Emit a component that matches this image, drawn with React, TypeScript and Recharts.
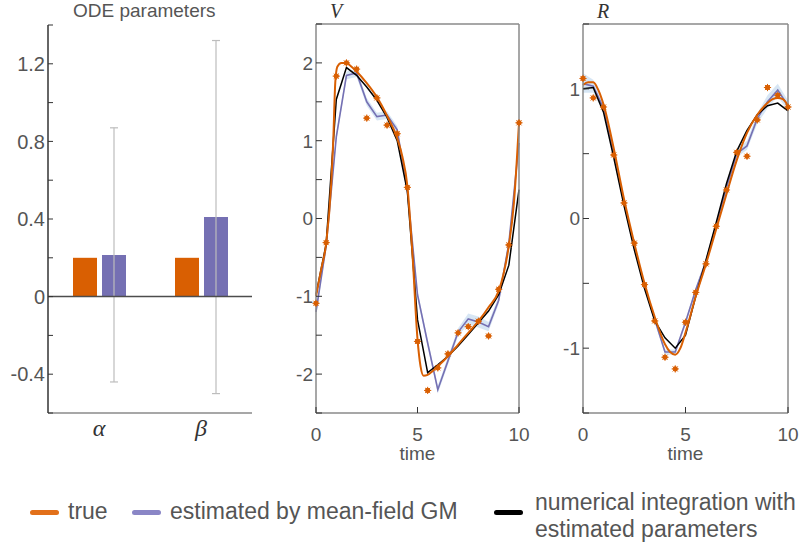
import {
  Area,
  Bar,
  BarChart,
  ComposedChart,
  ErrorBar,
  Line,
  ReferenceLine,
  Scatter,
  XAxis,
  YAxis,
} from "recharts";

const paramNames = ["α", "β"];
const trueParams = [0.2, 0.2];
const estParams = [0.215, 0.41];
const estLower = [-0.44, -0.5];
const estUpper = [0.87, 1.32];
const paramTicks = [-0.6, -0.4, -0.2, 0, 0.2, 0.4, 0.6, 0.8, 1, 1.2, 1.4];
const paramLabels = [-0.4, 0, 0.4, 0.8, 1.2];

const obsTimes = [0, 0.5, 1, 1.5, 2, 2.5, 3, 3.5, 4, 4.5, 5, 5.5, 6, 6.5, 7, 7.5, 8, 8.5, 9, 9.5, 10];
const timeTicks = [0, 5, 10];

const vObserved = [-1.09, -0.31, 1.83, 2.0, 1.92, 1.29, 1.55, 1.2, 1.09, 0.4, -1.58, -2.21, -1.92, -1.74, -1.47, -1.39, -1.32, -1.51, -0.91, -0.34, 1.23];
const vEstimated = [-1.2, -0.35, 1.05, 1.84, 1.87, 1.5, 1.31, 1.33, 1.14, 0.36, -0.98, -1.6, -2.2, -1.83, -1.46, -1.29, -1.33, -1.39, -1.05, -0.32, 0.97];
const vBandLower = [-1.25, -0.4, 1.0, 1.79, 1.82, 1.45, 1.26, 1.28, 1.09, 0.31, -1.03, -1.65, -2.25, -1.88, -1.51, -1.36, -1.4, -1.45, -1.1, -0.37, 0.92];
const vBandUpper = [-1.15, -0.3, 1.1, 1.89, 1.92, 1.55, 1.36, 1.38, 1.19, 0.41, -0.93, -1.55, -2.15, -1.78, -1.41, -1.22, -1.26, -1.33, -1.0, -0.27, 1.02];
const vIntegrated = [-0.98, -0.33, 1.53, 1.94, 1.84, 1.69, 1.52, 1.3, 1.0, 0.35, -1.3, -1.98, -1.88, -1.77, -1.64, -1.49, -1.34, -1.19, -0.98, -0.6, 0.37];
const vTrueTimes = [0, 0.25, 0.5, 0.75, 0.85, 0.95, 1.05, 1.25, 1.5, 1.75, 2, 2.5, 3, 3.5, 4, 4.25, 4.5, 4.75, 5, 5.15, 5.3, 5.5, 5.75, 6, 6.5, 7, 7.5, 8, 8.5, 9, 9.25, 9.5, 9.75, 10];
const vTrue = [-1.0, -0.66, -0.32, 0.45, 1.0, 1.75, 1.95, 2.0, 2.0, 1.95, 1.89, 1.74, 1.56, 1.32, 1.03, 0.8, 0.42, -0.45, -1.55, -1.9, -2.02, -2.01, -1.96, -1.9, -1.77, -1.62, -1.47, -1.32, -1.14, -0.93, -0.7, -0.35, 0.2, 1.23];
const vTicks = [-2.5, -2, -1.5, -1, -0.5, 0, 0.5, 1, 1.5, 2, 2.5];

const rObserved = [1.08, 0.93, 0.86, 0.49, 0.12, -0.19, -0.51, -0.79, -1.07, -1.16, -0.8, -0.57, -0.35, -0.06, 0.22, 0.51, 0.48, 0.76, 1.01, 0.95, 0.86];
const rEstimated = [1.04, 1.02, 0.85, 0.5, 0.12, -0.22, -0.52, -0.78, -1.03, -1.03, -0.8, -0.55, -0.33, -0.05, 0.24, 0.5, 0.56, 0.77, 0.9, 0.99, 0.87];
const rBandLower = [0.97, 0.97, 0.82, 0.48, 0.1, -0.24, -0.54, -0.8, -1.05, -1.05, -0.82, -0.57, -0.35, -0.07, 0.22, 0.47, 0.53, 0.73, 0.85, 0.94, 0.83];
const rBandUpper = [1.12, 1.07, 0.88, 0.52, 0.14, -0.2, -0.5, -0.76, -1.01, -1.01, -0.78, -0.53, -0.31, -0.03, 0.26, 0.53, 0.6, 0.81, 0.95, 1.04, 0.91];
const rIntegrated = [1.0, 1.01, 0.82, 0.47, 0.1, -0.24, -0.54, -0.79, -0.92, -1.0, -0.9, -0.6, -0.32, -0.03, 0.27, 0.52, 0.68, 0.8, 0.87, 0.89, 0.83];
const rTrueTimes = [0, 0.25, 0.5, 0.75, 1, 1.5, 2, 2.5, 3, 3.5, 4, 4.25, 4.5, 4.75, 5, 5.5, 6, 6.5, 7, 7.5, 8, 8.5, 9, 9.25, 9.5, 9.75, 10];
const rTrue = [1.03, 1.05, 1.05, 0.99, 0.88, 0.54, 0.15, -0.19, -0.5, -0.76, -0.97, -1.03, -1.05, -1.0, -0.88, -0.6, -0.35, -0.08, 0.19, 0.45, 0.66, 0.8, 0.89, 0.92, 0.93, 0.92, 0.87];
const rTicks = [-1.5, -1, -0.5, 0, 0.5, 1, 1.5];

const ORANGE = "#D95F02";
const PURPLE = "#7570B3";
const BAND = "#c6dbef";
const SANS = "Liberation Sans, Arial, sans-serif";
const SERIF = "Liberation Serif, DejaVu Serif, serif";
const TEXT = "#555555";
const BOX = "#8a8a8a";
const TICK = "#333333";

const toRows = (times: number[], values: number[]) => times.map((t, i) => ({ t, y: values[i] }));

const paramRows = paramNames.map((name, i) => ({
  name,
  trueValue: trueParams[i],
  estimate: estParams[i],
  err: [estParams[i] - estLower[i], estUpper[i] - estParams[i]],
}));

function Star(props: any) {
  const { cx, cy } = props;
  if (cx == null || cy == null) return null;
  const r = 3.6;
  return (
    <g stroke={ORANGE} strokeWidth={1}>
      <circle cx={cx} cy={cy} r={2.2} fill={ORANGE} />
      {[0, 45, 90, 135].map((a) => {
        const rad = (a * Math.PI) / 180;
        const dx = r * Math.cos(rad);
        const dy = r * Math.sin(rad);
        return <line key={a} x1={cx - dx} y1={cy - dy} x2={cx + dx} y2={cy + dy} />;
      })}
    </g>
  );
}

// ticks drawn inward, matlab style; tickSize=0 and tickMargin=3 so the axis sits at x + 3
function LeftTick(props: any) {
  const { x, y, payload, len, fontSize, labels } = props;
  const v = Number(payload.value);
  const show = labels ? labels.includes(v) : Number.isInteger(v);
  return (
    <g>
      <line x1={x + 3} x2={x + 3 + len} y1={y} y2={y} stroke={TICK} />
      {show && (
        <text x={x} y={y} dy="0.36em" textAnchor="end" fill={TEXT} fontSize={fontSize} fontFamily={SANS}>
          {String(v)}
        </text>
      )}
    </g>
  );
}

function RightTick(props: any) {
  const { x, y } = props;
  return <line x1={x - 6} x2={x} y1={y} y2={y} stroke={TICK} />;
}

function BottomTick(props: any) {
  const { x, y, payload } = props;
  return (
    <g>
      <line x1={x} x2={x} y1={y - 6} y2={y} stroke={TICK} />
      <text x={x} y={y + 28} textAnchor="middle" fill={TEXT} fontSize={19} fontFamily={SANS}>
        {String(payload.value)}
      </text>
    </g>
  );
}

function TopTick(props: any) {
  const { x, y } = props;
  return <line x1={x} x2={x} y1={y} y2={y + 6} stroke={TICK} />;
}

function ParamChart() {
  return (
    <BarChart width={270} height={450} data={paramRows} margin={{ top: 25, right: 18, left: 0, bottom: 0 }} barSize={24} barGap={5}>
      <XAxis
        dataKey="name"
        height={37}
        axisLine={{ stroke: BOX, strokeWidth: 1.5 }}
        tickLine={false}
        tickSize={0}
        tickMargin={6}
        tick={{ fontFamily: SERIF, fontStyle: "italic", fontSize: 24, fill: "#333" }}
      />
      <YAxis
        type="number"
        width={48}
        domain={[-0.6, 1.4]}
        ticks={paramTicks}
        interval={0}
        tickSize={0}
        tickMargin={3}
        tickLine={false}
        axisLine={{ stroke: "#333", strokeWidth: 1.5 }}
        tick={(props: any) => <LeftTick {...props} len={5} fontSize={20} labels={paramLabels} />}
      />
      <Bar dataKey="trueValue" fill={ORANGE} isAnimationActive={false} />
      <Bar dataKey="estimate" fill={PURPLE} isAnimationActive={false}>
        <ErrorBar dataKey="err" width={4} stroke="#bdbdbd" strokeWidth={1.2} direction="y" />
      </Bar>
      <ReferenceLine y={0} stroke="#4d4d4d" strokeWidth={1.5} />
    </BarChart>
  );
}

type StateProps = {
  width: number;
  right: number;
  yWidth: number;
  domain: [number, number];
  ticks: number[];
  observed: number[];
  estimated: number[];
  bandLower: number[];
  bandUpper: number[];
  integrated: number[];
  trueTimes: number[];
  trueValues: number[];
};

function StateChart(p: StateProps) {
  const bandRows = obsTimes.map((t, i) => ({ t, range: [p.bandLower[i], p.bandUpper[i]] }));
  return (
    <ComposedChart width={p.width} height={470} margin={{ top: 23, right: p.right - 1, left: 0, bottom: 0 }}>
      <XAxis
        dataKey="t"
        type="number"
        domain={[0, 10]}
        ticks={timeTicks}
        interval={0}
        height={57}
        tickSize={0}
        tickMargin={0}
        tickLine={false}
        axisLine={{ stroke: BOX, strokeWidth: 1.5 }}
        tick={BottomTick}
        label={{ value: "time", position: "insideBottom", offset: 10, fill: TEXT, fontSize: 19, fontFamily: SANS }}
      />
      <XAxis
        xAxisId="top"
        orientation="top"
        dataKey="t"
        type="number"
        domain={[0, 10]}
        ticks={timeTicks}
        interval={0}
        height={1}
        tickSize={0}
        tickMargin={0}
        tickLine={false}
        tick={TopTick}
        axisLine={{ stroke: BOX, strokeWidth: 1.5 }}
      />
      <YAxis
        type="number"
        width={p.yWidth}
        domain={p.domain}
        ticks={p.ticks}
        interval={0}
        tickSize={0}
        tickMargin={3}
        tickLine={false}
        axisLine={{ stroke: BOX, strokeWidth: 1.5 }}
        tick={(props: any) => <LeftTick {...props} len={6} fontSize={19} />}
      />
      <YAxis
        yAxisId="right"
        orientation="right"
        type="number"
        width={1}
        domain={p.domain}
        ticks={p.ticks}
        interval={0}
        tickSize={0}
        tickMargin={0}
        tickLine={false}
        tick={RightTick}
        axisLine={{ stroke: BOX, strokeWidth: 1.5 }}
      />
      <Area data={bandRows} dataKey="range" type="linear" stroke="none" fill={BAND} fillOpacity={0.7} isAnimationActive={false} />
      <Line data={toRows(obsTimes, p.estimated)} dataKey="y" type="linear" stroke={PURPLE} strokeWidth={1.6} dot={false} isAnimationActive={false} />
      <Line data={toRows(obsTimes, p.integrated)} dataKey="y" type="linear" stroke="#000" strokeWidth={1.5} dot={false} isAnimationActive={false} />
      <Line data={toRows(p.trueTimes, p.trueValues)} dataKey="y" type="monotone" stroke={ORANGE} strokeWidth={2} dot={false} isAnimationActive={false} />
      <Scatter data={toRows(obsTimes, p.observed)} dataKey="y" shape={Star} isAnimationActive={false} />
    </ComposedChart>
  );
}

function LegendItem({ left, color, width = 29 }: { left: number; color: string; width?: number }) {
  return <div style={{ position: "absolute", left, top: 510, width, height: 5, borderRadius: 2.5, background: color }} />;
}

export default function App() {
  const legendText = { position: "absolute" as const, fontFamily: SANS, fontSize: 23, color: TEXT, whiteSpace: "nowrap" as const };
  const titleText = { position: "absolute" as const, top: 0, fontFamily: SERIF, fontStyle: "italic" as const, fontSize: 20, lineHeight: "23px", color: "#333" };
  return (
    <div style={{ position: "absolute", left: 0, top: 0, width: 808, height: 550, background: "#fff", overflow: "hidden" }}>
      <div style={{ position: "absolute", left: 0, top: 0 }}>
        <ParamChart />
      </div>
      <div style={{ position: "absolute", left: 73, top: 0, fontFamily: SANS, fontSize: 19, color: TEXT, lineHeight: "22px" }}>ODE parameters</div>

      <div style={{ position: "absolute", left: 270, top: 0 }}>
        <StateChart
          width={260}
          right={11}
          yWidth={46}
          domain={[-2.5, 2.5]}
          ticks={vTicks}
          observed={vObserved}
          estimated={vEstimated}
          bandLower={vBandLower}
          bandUpper={vBandUpper}
          integrated={vIntegrated}
          trueTimes={vTrueTimes}
          trueValues={vTrue}
        />
      </div>
      <div style={{ ...titleText, left: 330 }}>V</div>

      <div style={{ position: "absolute", left: 540, top: 0 }}>
        <StateChart
          width={268}
          right={20}
          yWidth={43}
          domain={[-1.5, 1.5]}
          ticks={rTicks}
          observed={rObserved}
          estimated={rEstimated}
          bandLower={rBandLower}
          bandUpper={rBandUpper}
          integrated={rIntegrated}
          trueTimes={rTrueTimes}
          trueValues={rTrue}
        />
      </div>
      <div style={{ ...titleText, left: 597 }}>R</div>

      <LegendItem left={30} color="#E2701A" />
      <div style={{ ...legendText, left: 68, top: 500, lineHeight: "23px" }}>true</div>
      <LegendItem left={132} color="#8A86C6" />
      <div style={{ ...legendText, left: 170, top: 500, lineHeight: "23px" }}>estimated by mean-field GM</div>
      <LegendItem left={494} color="#000" />
      <div style={{ ...legendText, left: 535, top: 489, lineHeight: "27px" }}>
        numerical integration with
        <br />
        estimated parameters
      </div>
    </div>
  );
}
